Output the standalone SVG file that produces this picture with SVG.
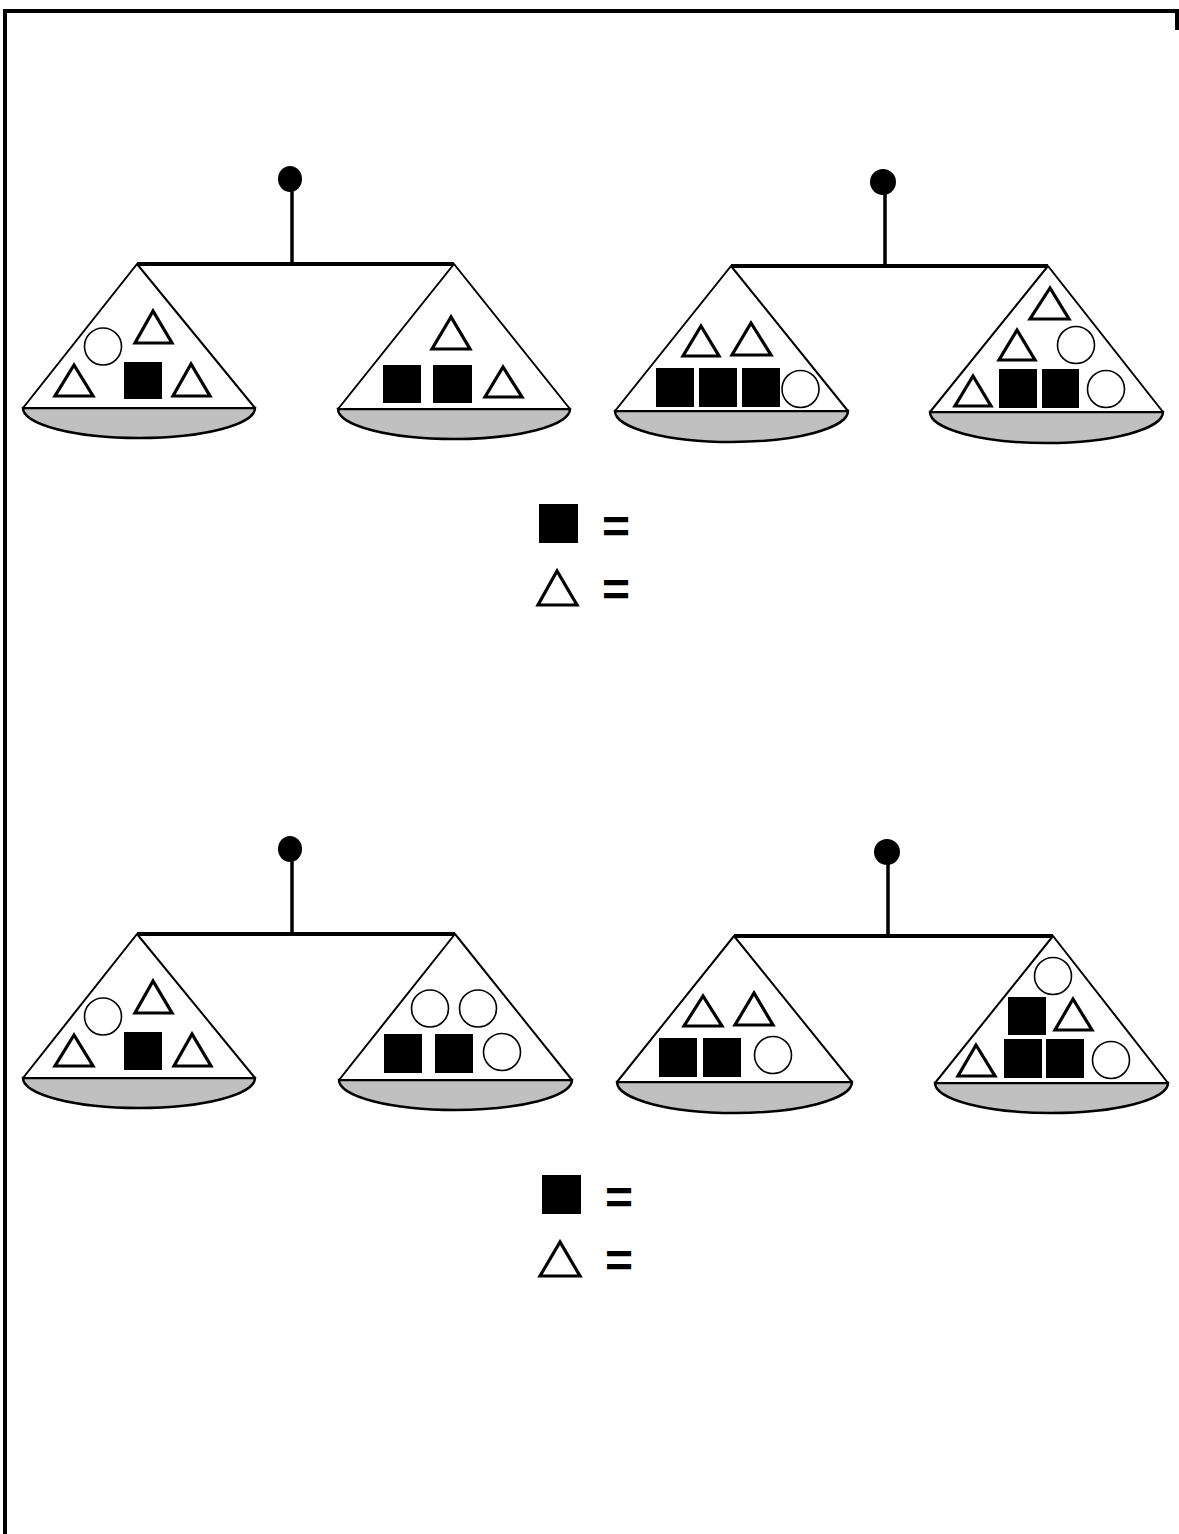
<svg xmlns="http://www.w3.org/2000/svg" width="1179" height="1534" viewBox="0 0 1179 1534">
<style>
.frame{fill:none;stroke:#000;stroke-width:4}
.knob{fill:#000}
.stem{stroke:#000;stroke-width:3.5}
.beam{stroke:#000;stroke-width:4}
.pan{fill:#fff;stroke:#000;stroke-width:2;stroke-linejoin:round}
.bowl{fill:#c0c0c0;stroke:#000;stroke-width:2.5}
.tri{fill:#fff;stroke:#000;stroke-width:3.2;stroke-linejoin:miter}
.sq{fill:#000}
.cir{fill:#fff;stroke:#000;stroke-width:1.6}
.eq{font-family:"Liberation Sans",Arial,sans-serif;font-weight:bold;font-size:48px;fill:#000}
</style>
<rect width="1179" height="1534" fill="#fff"/>
<path class="frame" d="M5,1534 V11 H1177 V30"/>

<g id="scale1">
  <ellipse class="knob" cx="290" cy="179" rx="12" ry="13"/>
  <line class="stem" x1="292" y1="188" x2="292" y2="264"/>
  <line class="beam" x1="137" y1="264" x2="454" y2="264"/>
  <g id="scale1-left">
    <path class="bowl" d="M23,408 A116,30 0 0 0 255,408 Z"/>
    <polygon class="pan" points="137,264 23,408 255,408"/>
    <circle class="cir" cx="103" cy="346.5" r="18.5"/>
    <polygon class="tri" points="153,311 135,343 172,343"/>
    <polygon class="tri" points="74,365 55,396 93,396"/>
    <rect class="sq" x="124" y="362" width="38" height="37"/>
    <polygon class="tri" points="191,364 173,396 210,396"/>
  </g>
  <g id="scale1-right">
    <path class="bowl" d="M338,409 A116,30 0 0 0 570,409 Z"/>
    <polygon class="pan" points="454,264 338,409 570,409"/>
    <polygon class="tri" points="451,317 432,349 470,349"/>
    <rect class="sq" x="383" y="365" width="38" height="38"/>
    <rect class="sq" x="433" y="365" width="39" height="38"/>
    <polygon class="tri" points="503,367 485,397 522,397"/>
  </g>
</g>

<g id="scale2">
  <ellipse class="knob" cx="883" cy="182" rx="13" ry="13"/>
  <line class="stem" x1="885" y1="190" x2="885" y2="266"/>
  <line class="beam" x1="731" y1="266" x2="1048" y2="266"/>
  <g id="scale2-left">
    <path class="bowl" d="M615,411 A116.5,31 0 0 0 848,411 Z"/>
    <polygon class="pan" points="731,266 615,411 848,411"/>
    <polygon class="tri" points="701,326 683,356 719,356"/>
    <polygon class="tri" points="751,323 732,355 771,355"/>
    <rect class="sq" x="656" y="368" width="38" height="39"/>
    <rect class="sq" x="699" y="368" width="38" height="39"/>
    <rect class="sq" x="742" y="368" width="38" height="39"/>
    <circle class="cir" cx="800.5" cy="389" r="18.5"/>
  </g>
  <g id="scale2-right">
    <path class="bowl" d="M930,412 A116.5,31 0 0 0 1163,412 Z"/>
    <polygon class="pan" points="1048,266 930,412 1163,412"/>
    <polygon class="tri" points="1050,288 1030,319 1069,319"/>
    <polygon class="tri" points="1017,330 999,360 1035,360"/>
    <circle class="cir" cx="1076" cy="345" r="18.5"/>
    <polygon class="tri" points="973,376 955,406 991,406"/>
    <rect class="sq" x="999" y="369" width="38" height="39"/>
    <rect class="sq" x="1042" y="369" width="37" height="39"/>
    <circle class="cir" cx="1106" cy="389" r="18.5"/>
  </g>
</g>

<g id="legend1">
  <rect class="sq" x="539" y="504" width="39" height="39"/>
  <text class="eq" x="602" y="543">=</text>
  <polygon class="tri" points="557,571 538,605 577,605"/>
  <text class="eq" x="602" y="606">=</text>
</g>

<g id="scale3">
  <ellipse class="knob" cx="290" cy="849" rx="12" ry="13"/>
  <line class="stem" x1="292" y1="858" x2="292" y2="934"/>
  <line class="beam" x1="137" y1="934" x2="455" y2="934"/>
  <g id="scale3-left">
    <path class="bowl" d="M23,1078 A116,30 0 0 0 255,1078 Z"/>
    <polygon class="pan" points="137,934 23,1078 255,1078"/>
    <circle class="cir" cx="103" cy="1016.5" r="18.5"/>
    <polygon class="tri" points="153,981 135,1013 172,1013"/>
    <polygon class="tri" points="74,1035 55,1066 93,1066"/>
    <rect class="sq" x="124" y="1032" width="38" height="38"/>
    <polygon class="tri" points="192,1034 174,1066 211,1066"/>
  </g>
  <g id="scale3-right">
    <path class="bowl" d="M339,1080 A116.5,30 0 0 0 572,1080 Z"/>
    <polygon class="pan" points="455,934 339,1080 572,1080"/>
    <circle class="cir" cx="430" cy="1008.5" r="18.5"/>
    <circle class="cir" cx="478" cy="1008.5" r="18.5"/>
    <rect class="sq" x="384" y="1034" width="38" height="39"/>
    <rect class="sq" x="435" y="1034" width="38" height="39"/>
    <circle class="cir" cx="502" cy="1052" r="18.5"/>
  </g>
</g>

<g id="scale4">
  <ellipse class="knob" cx="887" cy="852" rx="13" ry="13"/>
  <line class="stem" x1="888" y1="860" x2="888" y2="936"/>
  <line class="beam" x1="734" y1="936" x2="1053" y2="936"/>
  <g id="scale4-left">
    <path class="bowl" d="M617,1082 A117.5,31 0 0 0 852,1082 Z"/>
    <polygon class="pan" points="734,936 617,1082 852,1082"/>
    <polygon class="tri" points="703,996 684,1026 722,1026"/>
    <polygon class="tri" points="754,993 735,1025 773,1025"/>
    <rect class="sq" x="659" y="1038" width="38" height="39"/>
    <rect class="sq" x="703" y="1038" width="38" height="39"/>
    <circle class="cir" cx="773" cy="1055" r="18.5"/>
  </g>
  <g id="scale4-right">
    <path class="bowl" d="M935,1083 A116.5,30 0 0 0 1168,1083 Z"/>
    <polygon class="pan" points="1053,936 935,1083 1168,1083"/>
    <circle class="cir" cx="1053" cy="976" r="18.5"/>
    <rect class="sq" x="1008" y="997" width="38" height="38"/>
    <polygon class="tri" points="1073,999 1055,1030 1092,1030"/>
    <polygon class="tri" points="976,1045 958,1076 995,1076"/>
    <rect class="sq" x="1004" y="1039" width="38" height="39"/>
    <rect class="sq" x="1046" y="1039" width="38" height="39"/>
    <circle class="cir" cx="1111" cy="1060" r="18.5"/>
  </g>
</g>

<g id="legend2">
  <rect class="sq" x="542" y="1175" width="39" height="39"/>
  <text class="eq" x="605" y="1214">=</text>
  <polygon class="tri" points="560,1242 540,1276 580,1276"/>
  <text class="eq" x="605" y="1277">=</text>
</g>
</svg>
